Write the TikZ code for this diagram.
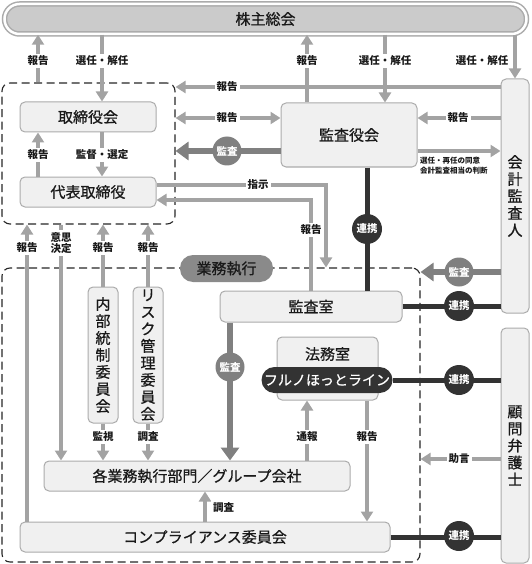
\documentclass[tikz,border=0pt]{standalone}
\usepackage{fontspec}
\setmainfont{Noto Sans CJK JP}
\newfontfamily\medjp{Noto Sans CJK JP}[FakeBold=0.7]
\usetikzlibrary{arrows.meta}

\definecolor{lgray}{HTML}{A3A3A3}
\definecolor{mgray}{HTML}{808080}
\definecolor{dgray}{HTML}{333333}
\definecolor{boxfill}{HTML}{F0F0F0}
\definecolor{boxline}{HTML}{ABABAB}
\definecolor{barfill}{HTML}{CBCBCB}
\definecolor{tagfill}{HTML}{8A8A8A}
\newcommand{\bxf}{\medjp\fontsize{15}{17}\selectfont}
\newcommand{\lbf}{\bfseries\fontsize{10.5}{12}\selectfont}
\newcommand{\smf}{\bfseries\fontsize{7.5}{10}\selectfont}

\begin{document}
\begin{tikzpicture}[x=1pt,y=-1pt,>={Triangle[length=10pt,width=12pt]}]
\tikzstyle{every node}+=[inner sep=0pt, text=black!90]
\tikzstyle{box}=[draw=boxline, fill=boxfill, line width=1pt, rounded corners=5pt, font=\bxf]
\tikzstyle{vbox}=[box, align=center]
\tikzstyle{grp}=[draw=black!85, line width=1.1pt, dash pattern=on 8pt off 4.5pt, rounded corners=8pt]
\tikzstyle{arr}=[draw=lgray, line width=4pt, ->]
\tikzstyle{aud}=[draw=mgray, line width=6.5pt, -{Triangle[length=13pt,width=18pt]}]
\tikzstyle{ren}=[draw=dgray, line width=5pt]
\tikzstyle{lab}=[fill=white, inner sep=2pt, font=\lbf]
\tikzstyle{kcirc}=[circle, fill=mgray, minimum size=29pt, text=white, font=\lbf]
\tikzstyle{rcirc}=[circle, fill=dgray, minimum size=30pt, text=white, font=\lbf]

\useasboundingbox (0,0) rectangle (531,564);

% groups
\node[grp, minimum width=173, minimum height=141] (bodgrp) at (88.5,153.5) {};
\node[grp, minimum width=418, minimum height=294] (exegrp) at (211,415) {};

% boxes
\node[draw=boxline, double=white, double distance=2.5pt, line width=1.5pt, fill=barfill,
  rounded corners=15pt, minimum width=522, minimum height=30, font=\bxf] (kabu) at (265.5,19) {株主総会};
\node[box, minimum width=136, minimum height=30] (torikai) at (88,117) {取締役会};
\node[box, minimum width=136, minimum height=30] (daihyo) at (88,192) {代表取締役};
\node[box, minimum width=136, minimum height=64] (kansayaku) at (349,135) {監査役会};
\node[vbox, minimum width=28, minimum height=234] (kaikei) at (515,196) {会\\計\\監\\査\\人};
\node[vbox, minimum width=28, minimum height=235] (komon) at (515,445.5) {顧\\問\\弁\\護\\士};
\node[fill=tagfill, rounded corners=13pt, minimum width=93, minimum height=27, font=\bxf] (exetag) at (226.5,268.5) {業務執行};
\node[box, minimum width=182, minimum height=31] (kansashitsu) at (311,306.5) {監査室};
\node[box, minimum width=101, minimum height=63] (homu) at (327.5,368.5) {};
\node[font=\bxf] (homulab) at (327.5,354) {法務室};
\node[fill=dgray, rounded corners=13pt, minimum width=131, minimum height=26, text=white,
  font=\medjp\fontsize{14}{16}\selectfont] (hotline) at (327,380) {フルノほっとライン};
\node[vbox, minimum width=30, minimum height=136] (naibu) at (103,355) {内\\部\\統\\制\\委\\員\\会};
\node[vbox, minimum width=30, minimum height=136] (risk) at (148,355) {リ\\ス\\ク\\管\\理\\委\\員\\会};
\node[box, minimum width=306, minimum height=30] (kakugyo) at (197,476) {各業務執行部門／グループ会社};
\node[box, minimum width=370, minimum height=30] (comp) at (205,537) {コンプライアンス委員会};

% shareholders
\draw[arr] (bodgrp.north -| 38,0) -- (kabu.south -| 38,0);
\draw[arr] (kabu.south -| 102,0) -- (torikai.north -| 102,0);
\draw[arr] (kansayaku.north -| 307,0) -- (kabu.south -| 307,0);
\draw[arr] (kabu.south -| 385,0) -- (kansayaku.north -| 385,0);
\draw[arr] (kabu.south -| 515,0) -- (kaikei.north);
% board
\draw[arr] (daihyo.north -| 38,0) -- (torikai.south -| 38,0);
\draw[arr] (torikai.south -| 102,0) -- (daihyo.north -| 102,0);
% auditors
\draw[arr] (kaikei.west |- 0,87) -- (bodgrp.east |- 0,87);
\draw[arr, <->] (bodgrp.east |- 0,118) -- (kansayaku.west |- 0,118);
\draw[aud] (kansayaku.west |- 0,151) -- (bodgrp.east |- 0,151);
\draw[arr] (kaikei.west |- 0,118) -- (kansayaku.east |- 0,118);
\draw[arr] (kansayaku.east |- 0,151) -- (kaikei.west |- 0,151);
\draw[arr] ([yshift=7pt]daihyo.east) -| (exegrp.north -| 326,0);
\draw[arr] (kansashitsu.north) |- ([yshift=-8pt]daihyo.east);
\draw[ren] (kansayaku.south -| 367,0) -- (kansashitsu.north -| 367,0);
% outside
\draw[aud] (kaikei.west |- 0,272) -- (exegrp.east |- 0,272);
\draw[ren] (kansashitsu.east) -- (kaikei.west |- kansashitsu.east);
\draw[ren] (hotline.east) -- (komon.west |- hotline.east);
\draw[arr] (komon.west |- 0,459) -- (exegrp.east |- 0,459);
\draw[ren] (comp.east) -- (komon.west |- comp.east);
% execution
\draw[aud] (kansashitsu.south -| 230,0) -- (kakugyo.north -| 230,0);
\draw[arr] (naibu.north) -- (bodgrp.south -| naibu.north);
\draw[arr] (risk.north) -- (bodgrp.south -| risk.north);
\draw[arr] (comp.north -| 27,0) -- (bodgrp.south -| 27,0);
\draw[arr] (bodgrp.south -| 61,0) -- (kakugyo.north -| 61,0);
\draw[arr] (naibu.south) -- (kakugyo.north -| naibu.south);
\draw[arr] (risk.south) -- (kakugyo.north -| risk.south);
\draw[arr] (kakugyo.north -| 307,0) -- (homu.south -| 307,0);
\draw[arr] (homu.south -| 367,0) -- (comp.north -| 367,0);
\draw[arr] (comp.north -| 205,0) -- (kakugyo.south -| 205,0);

% labels
\node[lab] (l1) at (38,61) {報告};
\node[lab] (l2) at (102,61) {選任・解任};
\node[lab] (l3) at (307,61) {報告};
\node[lab] (l4) at (385,61) {選任・解任};
\node[lab] (l5) at (482,61) {選任・解任};
\node[lab] (l6) at (38,155) {報告};
\node[lab] (l7) at (102,155) {監督・選定};
\node[lab] (l8) at (227,87) {報告};
\node[lab] (l9) at (227,118) {報告};
\node[kcirc] (c1) at (227,151) {監査};
\node[lab] (l10) at (458,118) {報告};
\node[font=\smf, align=left, anchor=north west] (l11) at (420,157) {選任・再任の同意\\会計監査相当の判断};
\node[lab] (l12) at (258,185) {指示};
\node[lab] (l13) at (311,230) {報告};
\node[rcirc] (c2) at (367,229) {連携};
\node[kcirc] (c3) at (459,272) {監査};
\node[rcirc] (c4) at (459,306) {連携};
\node[rcirc] (c5) at (459,380) {連携};
\node[lab] (l14) at (459,459) {助言};
\node[rcirc] (c6) at (459,536) {連携};
\node[kcirc] (c7) at (230,367) {監査};
\node[lab] (l15) at (27,248) {報告};
\node[lab, align=center, font=\bfseries\fontsize{10.5}{11}\selectfont] (l16) at (61,243) {意思\\決定};
\node[lab] (l17) at (103,248) {報告};
\node[lab] (l18) at (148,248) {報告};
\node[lab] (l19) at (103,437) {監視};
\node[lab] (l20) at (148,437) {調査};
\node[lab] (l21) at (307,437) {通報};
\node[lab] (l22) at (367,437) {報告};
\node[lab, anchor=west] (l23) at (211,508) {調査};
\end{tikzpicture}
\end{document}
